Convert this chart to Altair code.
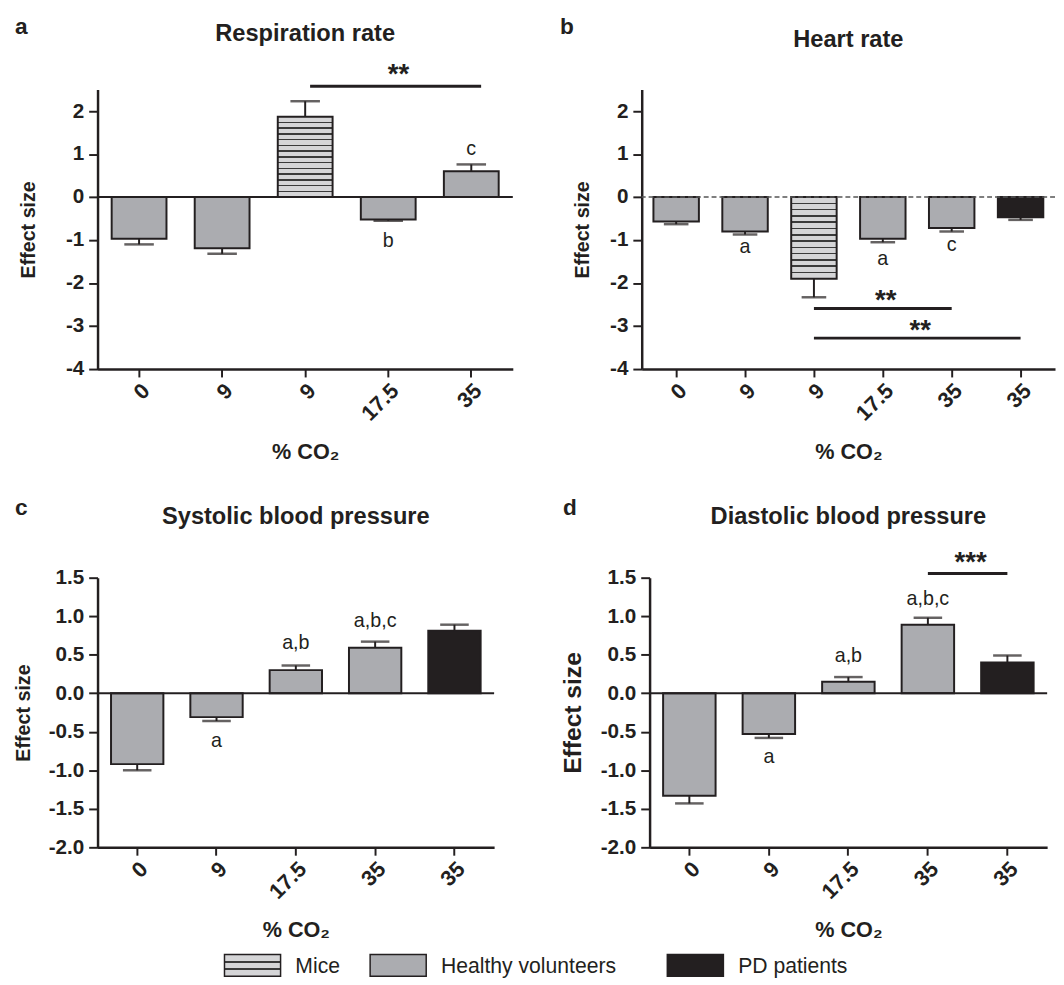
import altair as alt
import pandas as pd

FONT = "Liberation Sans"
INK = "#231f20"
GREY = "#abacb0"
PALE = "#d5d5d7"
LINE = "#3a3a3a"

# ---------------- data ----------------
# category keys (text before "_" is the tick label)
cats_a = ["0", "9", "9_m", "17.5", "35"]
groups_a = ["HV", "HV", "Mice", "HV", "HV"]
vals_a = [-0.97, -1.19, 1.87, -0.52, 0.60]
errs_a = [-1.10, -1.32, 2.23, -0.55, 0.76]
ann_cat_a = ["17.5", "35"]
ann_y_a = [-1.17, 0.98]
ann_t_a = ["b", "c"]
sig_from_a = ["9_m"]
sig_to_a = ["35"]
sig_y_a = [2.58]
sig_t_a = ["**"]

cats_b = ["0", "9", "9_m", "17.5", "35", "35_pd"]
groups_b = ["HV", "HV", "Mice", "HV", "HV", "PD"]
vals_b = [-0.57, -0.80, -1.90, -0.97, -0.72, -0.47]
errs_b = [-0.63, -0.87, -2.33, -1.05, -0.80, -0.53]
ann_cat_b = ["9", "17.5", "35"]
ann_y_b = [-1.30, -1.58, -1.26]
ann_t_b = ["a", "a", "c"]
sig_from_b = ["9_m", "9_m"]
sig_to_b = ["35", "35_pd"]
sig_y_b = [-2.59, -3.28]
sig_t_b = ["**", "**"]

cats_c = ["0", "9", "17.5", "35", "35_pd"]
groups_c = ["HV", "HV", "HV", "HV", "PD"]
vals_c = [-0.92, -0.31, 0.30, 0.59, 0.81]
errs_c = [-1.00, -0.36, 0.36, 0.67, 0.89]
ann_cat_c = ["9", "17.5", "35"]
ann_y_c = [-0.70, 0.58, 0.86]
ann_t_c = ["a", "a,b", "a,b,c"]

cats_d = ["0", "9", "17.5", "35", "35_pd"]
groups_d = ["HV", "HV", "HV", "HV", "PD"]
vals_d = [-1.33, -0.53, 0.15, 0.89, 0.40]
errs_d = [-1.43, -0.58, 0.21, 0.98, 0.49]
ann_cat_d = ["9", "17.5", "35"]
ann_y_d = [-0.90, 0.40, 1.145]
ann_t_d = ["a", "a,b", "a,b,c"]
sig_from_d = ["35"]
sig_to_d = ["35_pd"]
sig_y_d = [1.555]
sig_t_d = ["***"]

ticks_ab = [-4, -3, -2, -1, 0, 1, 2]
ticks_cd = [-2.0, -1.5, -1.0, -0.5, 0.0, 0.5, 1.0, 1.5]

legend_groups = ["Mice", "HV", "PD"]
legend_labels = ["Mice", "Healthy volunteers", "PD patients"]


def stripes(n, half):
    stops = [{"offset": 0, "color": PALE}]
    for k in range(1, n):
        o = k / n
        stops += [
            {"offset": o - half, "color": PALE},
            {"offset": o - half, "color": LINE},
            {"offset": o + half, "color": LINE},
            {"offset": o + half, "color": PALE},
        ]
    stops.append({"offset": 1, "color": PALE})
    return {"gradient": "linear", "x1": 0, "y1": 0, "x2": 0, "y2": 1, "stops": stops}


def panel(cats, groups, vals, errs, ann, sig, dom, ticks, width, height, cap,
          letter, name, lx, ly, ny, ytitle_size, ytitle_pad, n_stripes=13,
          dashed_zero=False, decimals=0, sig_off=(0, 0), star_dy=0):
    df = pd.DataFrame({"cat": cats, "g": groups, "v": vals, "e": errs})
    step = width / len(cats)
    if decimals == 0:
        lab = "toString(datum.value)"
    else:
        lab = "(datum.value < 0 ? '-' : '') + format(abs(datum.value), '.1f')"
    xaxis = alt.Axis(
        title="% CO₂", labelExpr="split(datum.value, '_')[0]", labelAngle=-45,
        labelFont=FONT, labelFontSize=22, labelFontWeight="bold", labelColor=INK,
        labelPadding=3, tickColor=INK, tickWidth=2, tickSize=8,
        domainColor=INK, domainWidth=2.5, titleFont=FONT, titleFontSize=22,
        titleFontWeight="bold", titleColor=INK, titlePadding=18, grid=False,
    )
    yaxis = alt.Axis(
        values=ticks, labelExpr=lab, title="Effect size", titleFont=FONT,
        titleFontSize=ytitle_size, titleFontWeight="bold", titleColor=INK,
        titlePadding=ytitle_pad, labelFont=FONT, labelFontSize=21,
        labelFontWeight="bold", labelColor=INK, labelPadding=5,
        tickColor=INK, tickWidth=2, tickSize=9, domainColor=INK,
        domainWidth=2.5, grid=False,
    )
    xs = alt.Scale(domain=cats, paddingInner=0.34, paddingOuter=0.17)
    ys = alt.Scale(domain=dom, nice=False, zero=False)
    x = alt.X("cat:N", scale=xs, axis=xaxis)
    y = alt.Y("v:Q", scale=ys, axis=yaxis)

    layers = []
    base = alt.Chart(df)
    layers.append(
        base.transform_filter(alt.datum.g != "Mice")
        .mark_bar(stroke=INK, strokeWidth=2)
        .encode(x=x, y=y, y2=alt.Y2(datum=0),
                fill=alt.Fill("g:N", scale=alt.Scale(domain=["HV", "PD"], range=[GREY, INK]), legend=None))
    )
    if "Mice" in groups:
        layers.append(
            base.transform_filter(alt.datum.g == "Mice")
            .mark_bar(stroke=INK, strokeWidth=2, fill=stripes(n_stripes, 0.009))
            .encode(x=x, y=y, y2=alt.Y2(datum=0))
        )
    zero_kw = dict(color=INK, strokeWidth=2)
    if dashed_zero:
        zero_kw = dict(color="#555555", strokeWidth=1.5, strokeDash=[5, 3])
    layers.append(
        alt.Chart(pd.DataFrame({"z": [0]})).mark_rule(**zero_kw)
        .encode(y=alt.Y("z:Q", scale=ys, axis=yaxis))
    )
    layers.append(base.mark_rule(color=INK, strokeWidth=2).encode(x=x, y=y, y2=alt.Y2("e")))
    layers.append(base.mark_tick(color=INK, thickness=2.5, size=cap)
                  .encode(x=x, y=alt.Y("e:Q", scale=ys, axis=yaxis)))

    ac, ay, at = ann
    dfa = pd.DataFrame({"cat": ac, "v": ay, "t": at})
    layers.append(alt.Chart(dfa).mark_text(font=FONT, fontSize=20, color=INK,
                                           baseline="alphabetic", align="center")
                  .encode(x=x, y=y, text="t:N"))
    if sig is not None:
        sf, st, sy, stt = sig
        dfs = pd.DataFrame({"cat": sf, "cat2": st, "v": sy, "t": stt})
        layers.append(alt.Chart(dfs).mark_rule(color=INK, strokeWidth=3,
                                               xOffset=sig_off[0], x2Offset=sig_off[1])
                      .encode(x=x, x2=alt.X2("cat2"), y=y))
        for i in range(len(sf)):
            dx = (cats.index(st[i]) - cats.index(sf[i])) * step / 2 + (sig_off[0] + sig_off[1]) / 2 + 3
            layers.append(alt.Chart(dfs.iloc[[i]]).mark_text(
                font=FONT, fontSize=28, fontWeight="bold", color=INK,
                baseline="alphabetic", align="center", dx=dx, dy=star_dy)
                .encode(x=x, y=y, text="t:N"))

    layers.append(alt.Chart(pd.DataFrame({"t": [letter]})).mark_text(
        font=FONT, fontSize=23, fontWeight="bold", color=INK, align="left",
        baseline="alphabetic").encode(x=alt.value(lx), y=alt.value(ly), text="t:N"))
    layers.append(alt.Chart(pd.DataFrame({"t": [name]})).mark_text(
        font=FONT, fontSize=24, fontWeight="bold", color=INK, align="center",
        baseline="alphabetic").encode(x=alt.value(width / 2), y=alt.value(ny), text="t:N"))
    return alt.layer(*layers).properties(width=width, height=height)


pa = panel(cats_a, groups_a, vals_a, errs_a, (ann_cat_a, ann_y_a, ann_t_a),
           (sig_from_a, sig_to_a, sig_y_a, sig_t_a), [-4, 2.5], ticks_ab, 422, 284, 30,
           "a", "Respiration rate", -84, -57, -49, 20, 27, n_stripes=14, sig_off=(5, 10),
           star_dy=-3)
pb = panel(cats_b, groups_b, vals_b, errs_b, (ann_cat_b, ann_y_b, ann_t_b),
           (sig_from_b, sig_to_b, sig_y_b, sig_t_b), [-4, 2.5], ticks_ab, 420, 284, 25,
           "b", "Heart rate", -83, -57, -43, 20, 17, n_stripes=13, dashed_zero=True,
           star_dy=1)
pc = panel(cats_c, groups_c, vals_c, errs_c, (ann_cat_c, ann_y_c, ann_t_c), None,
           [-2, 1.5], ticks_cd, 403, 274, 29, "c", "Systolic blood pressure",
           -84, -64, -55, 20, 15, decimals=1)
pd_ = panel(cats_d, groups_d, vals_d, errs_d, (ann_cat_d, ann_y_d, ann_t_d),
            (sig_from_d, sig_to_d, sig_y_d, sig_t_d), [-2, 1.5], ticks_cd, 404, 274, 29,
            "d", "Diastolic blood pressure", -88, -64, -55, 25, 15, decimals=1,
            star_dy=-2)

# ---------------- legend ----------------
leg_fill = {"Mice": stripes(3, 0.05), "HV": GREY, "PD": INK}
leg_rect_x = [129, 277, 579]
leg_layers = []
for gname, label, rx in zip(legend_groups, legend_labels, leg_rect_x):
    d1 = pd.DataFrame({"t": [label]})
    leg_layers.append(alt.Chart(d1).mark_rect(fill=leg_fill[gname], stroke=INK, strokeWidth=1.5)
                      .encode(x=alt.value(rx), x2=alt.value(rx + 57),
                              y=alt.value(0), y2=alt.value(22)))
    leg_layers.append(alt.Chart(d1).mark_text(font=FONT, fontSize=21.5, color=INK,
                                              align="left", baseline="middle")
                      .encode(x=alt.value(rx + 72), y=alt.value(13), text="t:N"))
legend = alt.layer(*leg_layers).properties(width=800, height=22)

row1 = alt.hconcat(pa, pb, spacing=47)
row2 = alt.hconcat(pc, pd_, spacing=66)
bottom = alt.vconcat(row2, legend, spacing=12)
chart = (
    alt.vconcat(row1, bottom, spacing=34)
    .configure_view(stroke=None)
    .properties(background="white", padding={"left": 5, "top": 0, "right": 0, "bottom": 0})
)

chart.save("out.html", embed_options={"renderer": "svg", "actions": False})
